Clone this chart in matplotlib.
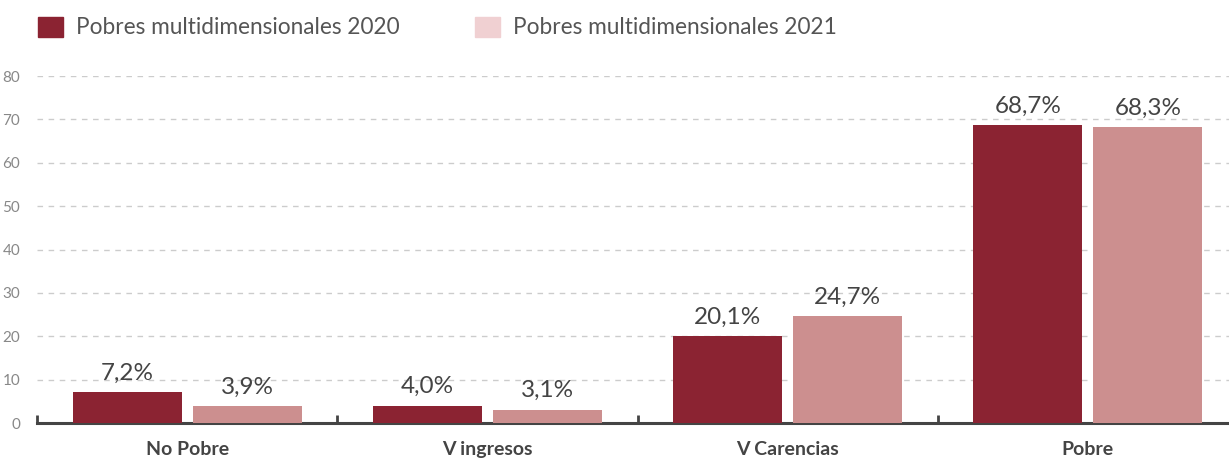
import numpy as np
import matplotlib.pyplot as plt
from matplotlib.patches import Rectangle

categories = ["No Pobre", "V ingresos", "V Carencias", "Pobre"]
pobres_2020 = [7.2, 4.0, 20.1, 68.7]
pobres_2021 = [3.9, 3.1, 24.7, 68.3]
series_names = ["Pobres multidimensionales 2020", "Pobres multidimensionales 2021"]

dark_red = "#8b2332"
rose = "#cc8f8f"
rose_swatch = "#f0d0d2"
text_grey = "#555555"

plt.rcParams["font.family"] = ["Lato", "DejaVu Sans"]

fig = plt.figure(figsize=(12.29, 4.61), dpi=100)
ax = fig.add_axes([37 / 1229, 38 / 461, 1201 / 1229, 347 / 461])

x = np.arange(len(categories))
w = 0.363
gap = 0.037
b1 = ax.bar(x - (w + gap) / 2, pobres_2020, width=w, color=dark_red, zorder=3)
b2 = ax.bar(x + (w + gap) / 2, pobres_2021, width=w, color=rose, zorder=3)

for bars, vals in ((b1, pobres_2020), (b2, pobres_2021)):
    for rect, v in zip(bars, vals):
        ax.annotate(f"{v:.1f}%".replace(".", ","),
                    (rect.get_x() + rect.get_width() / 2, v),
                    xytext=(0, 6), textcoords="offset points",
                    ha="center", va="bottom", fontsize=17.5, color="#444444")

ax.set_xlim(-0.5, 3.5)
ax.set_ylim(0, 80)
ax.set_yticks(range(0, 81, 10))
ax.tick_params(axis="y", length=0, labelsize=11, labelcolor="#888888", pad=12)
ax.yaxis.grid(True, linestyle=(0, (4, 4)), color="#cccccc", linewidth=1)
ax.set_axisbelow(True)

# category labels centred under each group, ticks at group boundaries
ax.set_xticks(np.arange(-0.5, 4, 1))
ax.set_xticklabels([])
ax.tick_params(axis="x", direction="in", length=6, width=2, color="#444444")
for xi, name in zip(x, categories):
    ax.text(xi, -4.2, name, ha="center", va="top", fontsize=14,
            fontweight="bold", color="#444444")

for side in ("top", "right", "left"):
    ax.spines[side].set_visible(False)
ax.spines["bottom"].set_color("#444444")
ax.spines["bottom"].set_linewidth(2.2)

# legend row across the top
for x0, color, label in ((38, dark_red, series_names[0]), (475, rose_swatch, series_names[1])):
    fig.patches.append(Rectangle((x0 / 1229, 1 - 37 / 461), 25 / 1229, 20 / 461,
                                 transform=fig.transFigure, color=color))
    fig.text((x0 + 38) / 1229, 1 - 27 / 461, label, fontsize=16.3,
             color=text_grey, va="center", ha="left")

fig.savefig("out.png", dpi=100)
